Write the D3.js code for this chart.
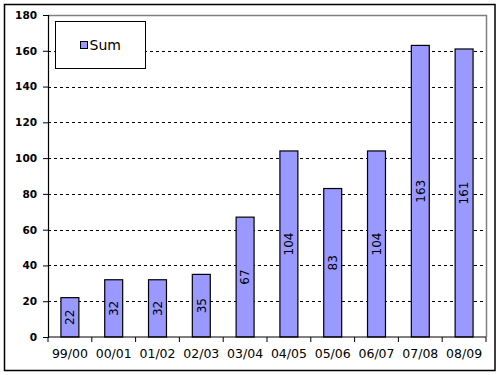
<!DOCTYPE html>
<meta charset="utf-8">
<style>
body { margin: 0; background: #fff; }
text { font-family: "DejaVu Sans", Verdana, sans-serif; font-size: 11px; fill: #000; }
.grid line { stroke: #000; stroke-dasharray: 3,3; }
</style>
<svg width="500" height="375"></svg>
<script src="https://cdn.jsdelivr.net/npm/d3@7"></script>
<script>

var seasons = ["99/00", "00/01", "01/02", "02/03", "03/04", "04/05", "05/06", "06/07", "07/08", "08/09"];
var sums = [22, 32, 32, 35, 67, 104, 83, 104, 163, 161];
var yTicks = [0, 20, 40, 60, 80, 100, 120, 140, 160, 180];
var seriesName = "Sum";

var svg = d3.select("svg");

var plotLeft = 48, plotRight = 486, plotTop = 15, plotBottom = 337;

// outer frame
svg.append("rect")
    .attr("x", 4.5).attr("y", 4.5)
    .attr("width", 490.5).attr("height", 366)
    .attr("fill", "#fff")
    .attr("stroke", "#000")
    .attr("stroke-width", 1.5);

var x = d3.scaleBand()
    .domain(seasons)
    .range([plotLeft, plotRight])
    .paddingInner(0.59)
    .paddingOuter(0.295);

var y = d3.scaleLinear()
    .domain([0, 180])
    .range([plotBottom, plotTop]);

// grid
svg.append("g")
    .attr("class", "grid")
  .selectAll("line")
    .data(yTicks.filter(function(d) { return d > 0 && d < 180; }))
  .enter().append("line")
    .attr("x1", plotLeft).attr("x2", plotRight)
    .attr("y1", function(d) { return Math.round(y(d)) + 0.5; })
    .attr("y2", function(d) { return Math.round(y(d)) + 0.5; });

// plot area top/right border
svg.append("path")
    .attr("d", "M" + plotLeft + "," + (plotTop + 0.5) + "H" + (plotRight + 0.5) + "V" + plotBottom)
    .attr("fill", "none")
    .attr("stroke", "#808080")
    .attr("stroke-width", 1.5);

// bars
svg.append("g")
  .selectAll("rect")
    .data(sums)
  .enter().append("rect")
    .attr("x", function(d, i) { return x(seasons[i]); })
    .attr("y", function(d) { return y(d); })
    .attr("width", x.bandwidth())
    .attr("height", function(d) { return plotBottom - y(d); })
    .attr("fill", "#9999ff")
    .attr("stroke", "#000")
    .attr("stroke-width", 1.2);

// value labels
svg.append("g")
  .selectAll("text")
    .data(sums)
  .enter().append("text")
    .attr("transform", function(d, i) {
      var cx = x(seasons[i]) + x.bandwidth() / 2;
      var cy = (y(d) + plotBottom) / 2;
      return "translate(" + cx + "," + cy + ") rotate(-90)";
    })
    .attr("text-anchor", "middle")
    .attr("dy", "0.35em")
    .style("font-size", "12px")
    .text(function(d) { return d; });

// y axis
var yAxis = svg.append("g")
    .attr("transform", "translate(" + plotLeft + ",0)")
    .call(d3.axisLeft(y).tickValues(yTicks).tickSize(5).tickPadding(6));
yAxis.select(".domain").attr("stroke", "#000").attr("stroke-width", 1.2);
yAxis.selectAll("text").style("font-size", "10.5px").style("font-weight", "bold");

// x axis with ticks at category boundaries
var xAxis = svg.append("g")
    .attr("transform", "translate(0," + plotBottom + ")")
    .call(d3.axisBottom(x).tickSize(0).tickPadding(12));
xAxis.select(".domain").attr("d", "M" + plotLeft + ",0H" + plotRight).attr("stroke", "#000").attr("stroke-width", 1.2);
xAxis.selectAll("text").style("font-size", "12.5px");
svg.append("g")
  .selectAll("line")
    .data(d3.range(seasons.length + 1))
  .enter().append("line")
    .attr("x1", function(i) { return plotLeft + i * x.step(); })
    .attr("x2", function(i) { return plotLeft + i * x.step(); })
    .attr("y1", plotBottom).attr("y2", plotBottom + 5)
    .attr("stroke", "#000");

// legend
var legend = svg.append("g");
legend.append("rect")
    .attr("x", 55.5).attr("y", 21.5)
    .attr("width", 90).attr("height", 47)
    .attr("fill", "#fff")
    .attr("stroke", "#000");
legend.append("rect")
    .attr("x", 80.5).attr("y", 41.5)
    .attr("width", 7).attr("height", 7)
    .attr("fill", "#9999ff")
    .attr("stroke", "#000");
legend.append("text")
    .attr("x", 89.5).attr("y", 50)
    .style("font-size", "14px")
    .text(seriesName);

</script>
